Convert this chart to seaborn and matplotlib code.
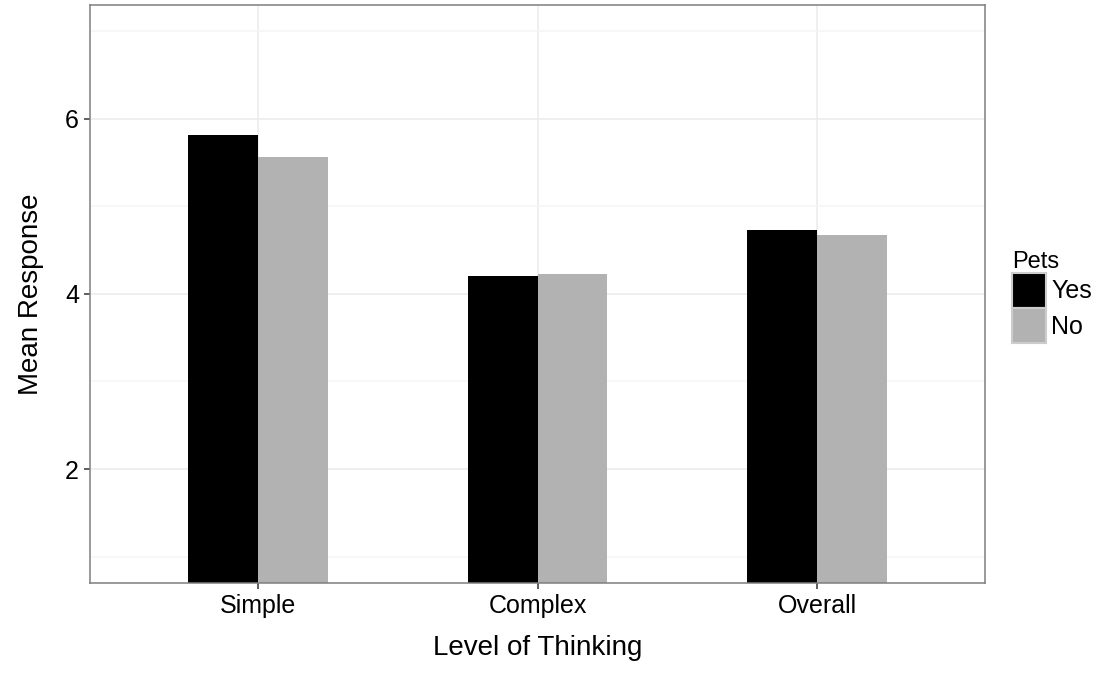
import numpy as np
import pandas as pd
import matplotlib.pyplot as plt
import seaborn as sns
from matplotlib.ticker import MultipleLocator

levels = ["Simple", "Complex", "Overall"]
pets = ["Yes", "No"]
yes_means = [5.81, 4.20, 4.73]
no_means = [5.56, 4.23, 4.67]

d = pd.DataFrame({
    "Level of Thinking": levels * 2,
    "Pets": ["Yes"] * 3 + ["No"] * 3,
    "Mean Response": yes_means + no_means,
})

sns.set_style("white")
plt.rcParams["font.family"] = ["Liberation Sans", "DejaVu Sans"]
plt.rcParams["text.color"] = "black"
plt.rcParams["axes.labelcolor"] = "black"

fig = plt.figure(figsize=(10.97, 6.78), dpi=100)
ax = fig.add_axes([90 / 1097, 1 - 583 / 678, 895 / 1097, (583 - 4.7) / 678])

sns.barplot(data=d, x="Level of Thinking", y="Mean Response", hue="Pets",
            order=levels, hue_order=pets,
            palette={"Yes": "black", "No": "#b2b2b2"},
            width=0.5, saturation=1, errorbar=None, linewidth=0,
            ax=ax, zorder=2)

ax.set_xlim(-0.6, 2.6)
ax.set_ylim(0.7, 7.3)
ax.set_yticks([2, 4, 6])
ax.yaxis.set_minor_locator(MultipleLocator(1))
ax.set_axisbelow(True)
ax.grid(which="major", axis="both", color="#ebebeb", linewidth=1.1, zorder=0)
ax.grid(which="minor", axis="y", color="#f5f5f5", linewidth=1.1, zorder=0)

for s in ax.spines.values():
    s.set_color("#7f7f7f")
    s.set_linewidth(1.1)

ax.tick_params(which="major", length=4, width=1.1, color="#333333",
               labelsize=18, labelcolor="black", pad=4, left=True, bottom=True)
ax.tick_params(which="minor", length=0)

ax.set_xlabel("Level of Thinking", fontsize=20, labelpad=12)
ax.set_ylabel("Mean Response", fontsize=20, labelpad=15)

ax.get_legend().remove()
handles, labels = ax.get_legend_handles_labels()
leg = fig.legend(handles, labels, title="Pets", loc="center left",
                 bbox_to_anchor=(1012 / 1097, 1 - 297 / 678), frameon=False,
                 fontsize=18, title_fontsize=17, handlelength=1.36,
                 handleheight=1.8, labelspacing=0.0, handletextpad=0.2,
                 borderpad=0, borderaxespad=0, alignment="left")
for h in leg.legend_handles:
    h.set_edgecolor("#cccccc")
    h.set_linewidth(1.5)

plt.savefig("out.png", dpi=100)
plt.close()
